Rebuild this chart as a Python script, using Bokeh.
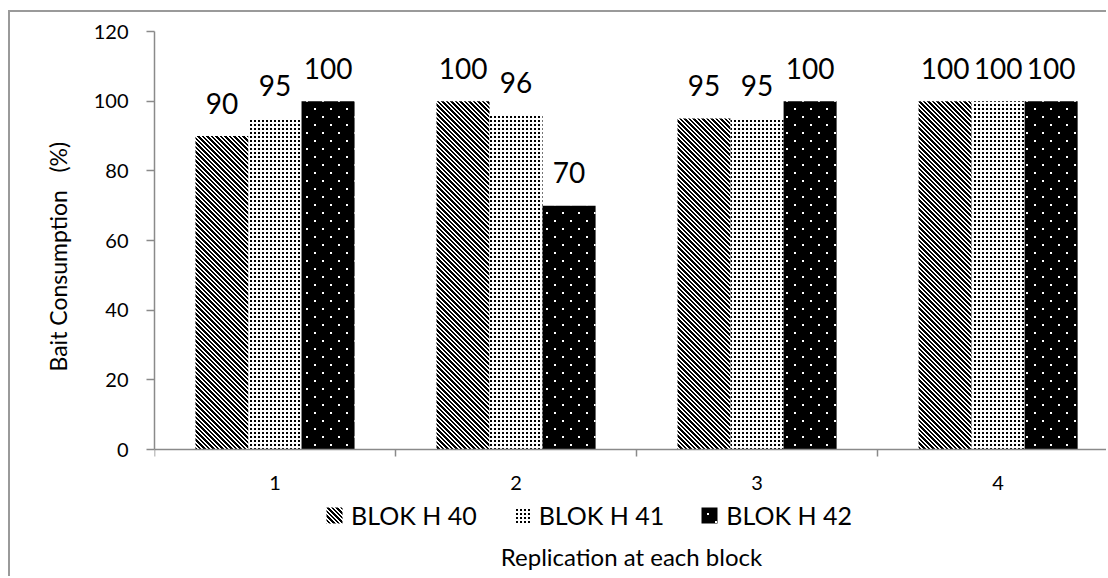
import base64
import struct
import zlib

from bokeh.plotting import figure
from bokeh.models import (ColumnDataSource, FixedTicker, Legend, LegendItem,
                          Range1d, ImageURLTexture, Title)
from bokeh.transform import dodge
from bokeh.core.properties import value
from bokeh.embed import file_html
from bokeh.resources import INLINE

# Bait consumption (%) per replication block
categories = ["1", "2", "3", "4"]
series_names = ["BLOK H 40", "BLOK H 41", "BLOK H 42"]
blok_h40 = [90, 100, 95, 100]
blok_h41 = [95, 96, 95, 100]
blok_h42 = [100, 70, 100, 100]
y_ticks = [0, 20, 40, 60, 80, 100, 120]

FONT = "Lato"
GREY = "#8a8a8a"

# layout in pixels
FIG_W, FIG_H = 1098, 566
TOP = 19            # space above the plotting area
AXIS_BOTTOM = 437   # distance of the zero line from the figure top
Y_MAX = 120
px_per_unit = (AXIS_BOTTOM - TOP) / Y_MAX
y_min = -(FIG_H - AXIS_BOTTOM) / px_per_unit   # room for labels and legend


def png_tile(size, is_on, rgba):
    """Square RGBA PNG tile as a data URL; pixels where is_on(x, y) get rgba."""
    raw = b""
    for y in range(size):
        raw += b"\x00"
        for x in range(size):
            raw += bytes(rgba) if is_on(x, y) else bytes(4)

    def chunk(tag, data):
        return (struct.pack(">I", len(data)) + tag + data +
                struct.pack(">I", zlib.crc32(tag + data) & 0xffffffff))

    png = (b"\x89PNG\r\n\x1a\n" +
           chunk(b"IHDR", struct.pack(">IIBBBBB", size, size, 8, 6, 0, 0, 0)) +
           chunk(b"IDAT", zlib.compress(raw)) +
           chunk(b"IEND", b""))
    return "data:image/png;base64," + base64.b64encode(png).decode()


BLACK = (0, 0, 0, 255)
WHITE = (255, 255, 255, 255)

# black downward diagonal stripes
diag_tex = ImageURLTexture(
    url=png_tile(9, lambda x, y: (x - y) % 9 in (0, 1, 2, 5, 6), BLACK))
# fine black dot grid
fine_dot_tex = ImageURLTexture(
    url=png_tile(4, lambda x, y: x < 2 and y < 2, BLACK))
# white pin dots on black, staggered
sparse_dot_tex = ImageURLTexture(
    url=png_tile(16, lambda x, y: (x < 2 and y < 2) or
                 (8 <= x < 10 and 8 <= y < 10), WHITE))
textures = {"diag": diag_tex, "fine_dots": fine_dot_tex,
            "sparse_dots": sparse_dot_tex}

xs = list(range(1, len(categories) + 1))
n = len(xs)
source = ColumnDataSource(data=dict(
    x=xs,
    h40=blok_h40, h41=blok_h41, h42=blok_h42,
    h40_txt=[str(v) for v in blok_h40],
    h41_txt=[str(v) for v in blok_h41],
    h42_txt=[str(v) for v in blok_h42],
    pat_diag=["diag"] * n,
    pat_fine=["fine_dots"] * n,
    pat_sparse=["sparse_dots"] * n,
))

p = figure(width=FIG_W, height=FIG_H,
           x_range=Range1d(0.5, 4.458), y_range=Range1d(y_min, Y_MAX),
           output_backend="svg", toolbar_location=None,
           min_border_left=144, min_border_top=TOP,
           min_border_right=0, min_border_bottom=0)
p.styles = {"margin-left": "8px", "margin-top": "10px",
            "border-left": "2px solid #9a9a9a",
            "border-top": "2px solid #9a9a9a"}
p.outline_line_color = None
p.xgrid.visible = False
p.ygrid.visible = False

bar_w = 0.22
styles = [
    dict(col="h40", off=-bar_w, fill_color="white", pat="pat_diag"),
    dict(col="h41", off=0.0, fill_color="white", pat="pat_fine"),
    dict(col="h42", off=bar_w, fill_color="black", pat="pat_sparse"),
]

items = []
for name, st in zip(series_names, styles):
    r = p.vbar(x=dodge("x", st["off"], range=p.x_range), top=st["col"],
               bottom=0, width=bar_w, source=source, line_color=None,
               fill_color=st["fill_color"], hatch_pattern=st["pat"],
               hatch_extra=textures, hatch_color="black")
    items.append(LegendItem(label=name, renderers=[r]))
    p.text(x=dodge("x", st["off"], range=p.x_range), y=st["col"],
           text=st["col"] + "_txt", source=source,
           text_align="center", text_baseline="alphabetic", y_offset=-33,
           text_font=value(FONT), text_font_size="28px", text_color="black")

# y axis
p.yaxis.bounds = (0, Y_MAX)
p.yaxis.ticker = FixedTicker(ticks=y_ticks, minor_ticks=[])
p.yaxis.axis_line_color = GREY
p.yaxis.axis_line_width = 1.5
p.yaxis.major_tick_line_color = GREY
p.yaxis.major_tick_line_width = 1.5
p.yaxis.major_tick_out = 8
p.yaxis.major_tick_in = 0
p.yaxis.major_label_standoff = 18
p.yaxis.major_label_text_font = FONT
p.yaxis.major_label_text_font_size = "20px"
p.yaxis.major_label_text_color = "black"

# y title, centred on the 0-120 span of the axis
p.add_layout(Title(text="Bait Consumption\u00a0\u00a0 (%)", align="left",
                   offset=207, standoff=38, text_font=FONT,
                   text_font_size="23px", text_font_style="normal",
                   text_color="black"), "left")

# x axis drawn on the zero line: labels at block centres,
# tick marks at block boundaries
p.xaxis.fixed_location = 0
p.xaxis.ticker = FixedTicker(ticks=xs,
                             minor_ticks=[x - 0.5 for x in xs] + [xs[-1] + 0.5])
p.xaxis.major_label_overrides = {x: c for x, c in zip(xs, categories)}
p.xaxis.axis_line_color = GREY
p.xaxis.axis_line_width = 1.5
p.xaxis.major_tick_line_color = None
p.xaxis.major_tick_out = 0
p.xaxis.major_tick_in = 0
p.xaxis.minor_tick_line_color = GREY
p.xaxis.minor_tick_line_width = 1.5
p.xaxis.minor_tick_out = 7
p.xaxis.minor_tick_in = 0
p.xaxis.major_label_standoff = 19
p.xaxis.major_label_text_font = FONT
p.xaxis.major_label_text_font_size = "20px"
p.xaxis.major_label_text_color = "black"
p.xaxis.axis_label = "Replication at each block"
p.xaxis.axis_label_text_font = FONT
p.xaxis.axis_label_text_font_style = "normal"
p.xaxis.axis_label_text_font_size = "24px"
p.xaxis.axis_label_text_color = "black"
p.xaxis.axis_label_standoff = 49

# legend between the block labels and the axis title
legend = Legend(items=items, orientation="horizontal", location=(170, 48),
                glyph_width=20, glyph_height=20, label_standoff=7,
                spacing=35, padding=4, margin=0,
                label_text_font=FONT, label_text_font_size="25px",
                label_text_color="black",
                border_line_color=None, background_fill_color=None)
p.add_layout(legend, "center")

open("out.html", "w").write(file_html(p, INLINE))
